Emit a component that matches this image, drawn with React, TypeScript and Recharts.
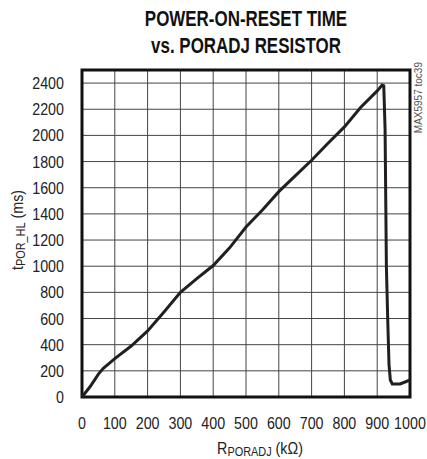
import {
  LineChart,
  Line,
  XAxis,
  YAxis,
  CartesianGrid,
  ReferenceArea,
  Label,
} from "recharts";

// PORADJ resistor (kOhm)
const resistance = [
  0, 25, 50, 65, 100, 150, 200, 250, 300, 350, 400, 450, 500, 550, 600, 650,
  700, 750, 800, 850, 900, 915, 920, 924, 928, 932, 936, 940, 946, 970, 1000,
];
// power-on-reset time (ms)
const porTime = [
  0, 80, 175, 220, 293, 390, 505, 650, 800, 905, 1005, 1140, 1300, 1430, 1570,
  1690, 1810, 1940, 2065, 2215, 2340, 2385, 2380, 2050, 1000, 600, 250, 130,
  100, 100, 130,
];

const xTicks = [0, 100, 200, 300, 400, 500, 600, 700, 800, 900, 1000];
const yTicks = [0, 200, 400, 600, 800, 1000, 1200, 1400, 1600, 1800, 2000, 2200, 2400];

const data = resistance.map((r, i) => ({ r, t: porTime[i] }));

const FONT = "'Liberation Sans', Arial, sans-serif";
const INK = "#222";
// narrow look: squeeze Liberation Sans horizontally
const SQUEEZE = 0.84;

const XTick = (props: any) => {
  const { x, payload } = props;
  return (
    <text
      transform={`translate(${x},429) scale(${SQUEEZE},1)`}
      textAnchor="middle"
      fontSize={17}
      fill={INK}
      fontFamily={FONT}
    >
      {payload.value}
    </text>
  );
};

const YTick = (props: any) => {
  const { y, payload } = props;
  return (
    <text
      transform={`translate(64,${y + 6}) scale(${SQUEEZE},1)`}
      textAnchor="end"
      fontSize={17}
      fill={INK}
      fontFamily={FONT}
    >
      {payload.value}
    </text>
  );
};

export default function App() {
  return (
    <div
      style={{
        position: "absolute",
        left: 0,
        top: 0,
        width: 427,
        height: 459,
        overflow: "hidden",
        background: "#fff",
        fontFamily: FONT,
      }}
    >
      <div
        style={{
          position: "absolute",
          left: 82,
          width: 328,
          top: 5,
          textAlign: "center",
          fontWeight: "bold",
          fontSize: 22,
          lineHeight: "27px",
          color: "#111",
          transform: "scaleX(0.77)",
          transformOrigin: "164px 0",
        }}
      >
        POWER-ON-RESET TIME
        <br />
        vs. PORADJ RESISTOR
      </div>
      <div
        style={{
          position: "absolute",
          left: 413,
          top: 62,
          writingMode: "vertical-rl",
          transform: "rotate(180deg)",
          fontSize: 10,
          lineHeight: "12px",
          color: "#555",
        }}
      >
        MAX5957 toc39
      </div>
      <LineChart
        width={427}
        height={459}
        data={data}
        margin={{ top: 70, right: 17, bottom: 30, left: 22 }}
        style={{ position: "absolute", left: 0, top: 0 }}
      >
        <CartesianGrid stroke="#444" strokeWidth={1} />
        <XAxis
          dataKey="r"
          type="number"
          domain={[0, 1000]}
          ticks={xTicks}
          interval={0}
          axisLine={false}
          tickLine={false}
          height={32}
          tick={<XTick />}
        >
          <Label
            position="insideBottom"
            content={() => (
              <text
                transform={`translate(260,454) scale(${SQUEEZE},1)`}
                textAnchor="middle"
                fontSize={17}
                fill={INK}
                fontFamily={FONT}
              >
                R
                <tspan fontSize={13} dy={2}>PORADJ</tspan>
                <tspan dy={-2}> (kΩ)</tspan>
              </text>
            )}
          />
        </XAxis>
        <YAxis
          type="number"
          domain={[0, 2500]}
          ticks={yTicks}
          interval={0}
          axisLine={false}
          tickLine={false}
          width={60}
          tick={<YTick />}
        >
          <Label
            position="insideLeft"
            content={() => (
              <text
                transform={`translate(23,230) rotate(-90) scale(${SQUEEZE},1)`}
                textAnchor="middle"
                fontSize={17}
                fill={INK}
                fontFamily={FONT}
              >
                t<tspan fontSize={13} dy={2}>POR_HL</tspan>
                <tspan dy={-2}> (ms)</tspan>
              </text>
            )}
          />
        </YAxis>
        <ReferenceArea
          x1={0}
          x2={1000}
          y1={0}
          y2={2500}
          fill="none"
          stroke="#111"
          strokeWidth={3}
          ifOverflow="visible"
        />
        <Line
          type="linear"
          dataKey="t"
          stroke="#231f20"
          strokeWidth={3}
          dot={false}
          isAnimationActive={false}
        />
      </LineChart>
    </div>
  );
}
